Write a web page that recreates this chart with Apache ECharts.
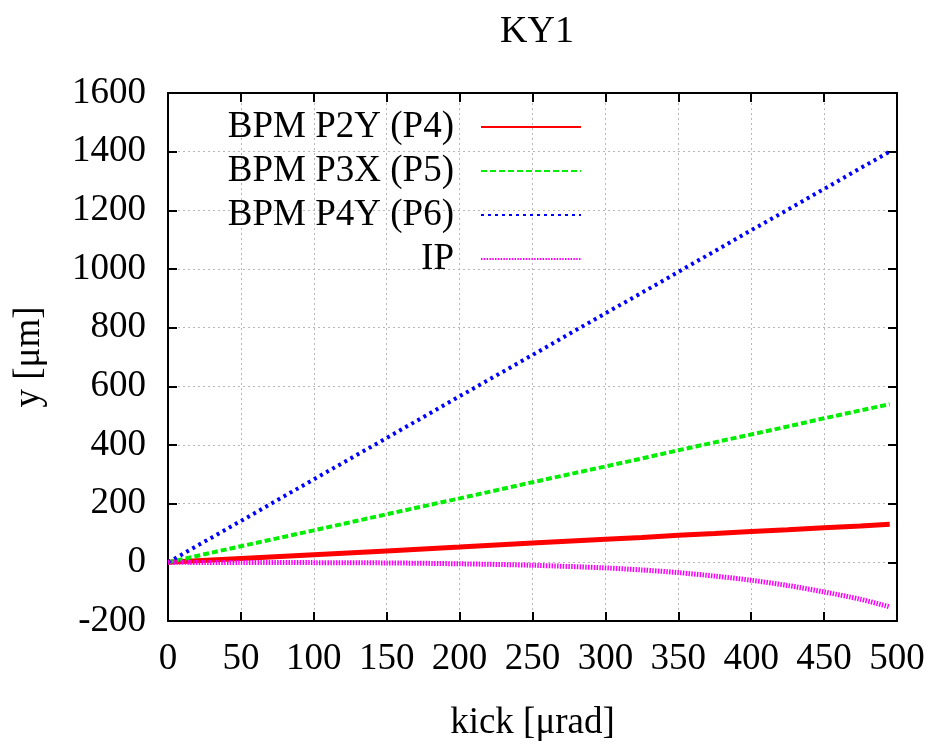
<!DOCTYPE html>
<html>
<head>
<meta charset="utf-8">
<script src="https://cdn.jsdelivr.net/npm/echarts@6/dist/echarts.min.js"></script>
<style>
  html, body { margin: 0; padding: 0; background: #fff; }
  #chart { width: 935px; height: 756px; }
</style>
</head>
<body>
<div id="chart"></div>
<script>
// kick values (µrad) and the readings for each monitor
const kick = [0, 50, 100, 150, 200, 250, 300, 325, 350, 375, 400, 425, 450, 475, 495]
const p2y = [0, 13, 26, 39, 52, 66, 79, 85, 92, 98, 105, 111, 118, 124, 130]
const p3x = [0, 55, 109, 164, 218, 273, 327, 354, 382, 409, 436, 463, 491, 518, 539]
const p4y = [0, 141, 283, 424, 566, 707, 849, 919, 990, 1061, 1132, 1202, 1273, 1344, 1400]
const ip = [0, -0.5, -1, -2, -5, -10, -19, -26, -35, -47, -61, -79, -101, -126, -152]

const names = ['BPM P2Y (P4)', 'BPM P3X (P5)', 'BPM P4Y (P6)', 'IP']

const pairs = (ys) => kick.map((x, i) => [x, ys[i]])

const font = 'Liberation Serif'
const chart = echarts.init(document.getElementById('chart'))

const gridLine = () => ({ show: true, lineStyle: { color: '#b8b8b8', type: [2, 3], width: 1 } })
const tick = () => ({ show: true, inside: true, length: 9, lineStyle: { color: '#000', width: 2 } })
const axisLine = () => ({ show: true, onZero: false, lineStyle: { color: '#000', width: 2 } })

const option = {
  animation: false,
  backgroundColor: '#fff',
  title: {
    text: 'KY1',
    left: 532, top: 8,
    textAlign: 'center',
    textStyle: { fontFamily: font, fontSize: 38, fontWeight: 'normal', color: '#000' }
  },
  legend: {
    data: names,
    orient: 'vertical',
    align: 'right',
    right: 348,
    top: 103,
    itemWidth: 100,
    itemHeight: 12,
    itemGap: 6,
    itemStyle: { opacity: 0 },
    textStyle: { fontFamily: font, fontSize: 37, color: '#000', lineHeight: 38, padding: [0, 22, 0, 0] }
  },
  grid: { left: 168, right: 38, top: 93, bottom: 135 },
  xAxis: [
    {
      type: 'value', min: 0, max: 500, interval: 50,
      name: 'kick [μrad]', nameLocation: 'middle', nameGap: 84,
      nameTextStyle: { fontFamily: font, fontSize: 37, color: '#000' },
      axisLine: axisLine(), axisTick: tick(), splitLine: gridLine(),
      axisLabel: { fontFamily: font, fontSize: 37, color: '#000', margin: 20 }
    },
    {
      type: 'value', min: 0, max: 500, interval: 50, position: 'top',
      axisLine: axisLine(), axisTick: tick(), splitLine: { show: false }, axisLabel: { show: false }
    }
  ],
  yAxis: [
    {
      type: 'value', min: -200, max: 1600, interval: 200,
      name: 'y [μm]', nameLocation: 'middle', nameGap: 120,
      nameTextStyle: { fontFamily: font, fontSize: 37, color: '#000' },
      axisLine: axisLine(), axisTick: tick(), splitLine: gridLine(),
      axisLabel: { fontFamily: font, fontSize: 37, color: '#000', margin: 22, formatter: (v) => String(v) }
    },
    {
      type: 'value', min: -200, max: 1600, interval: 200, position: 'right',
      axisLine: axisLine(), axisTick: tick(), splitLine: { show: false }, axisLabel: { show: false }
    }
  ],
  series: [
    {
      name: names[0], type: 'line', data: pairs(p2y), showSymbol: false, symbol: 'none',
      color: '#ff0000', lineStyle: { color: '#ff0000', width: 5, type: 'solid' }
    },
    {
      name: names[1], type: 'line', data: pairs(p3x), showSymbol: false, symbol: 'none',
      color: '#00ee00', lineStyle: { color: '#00ee00', width: 4, type: [6, 3] }
    },
    {
      name: names[2], type: 'line', data: pairs(p4y), showSymbol: false, symbol: 'none',
      color: '#0000ff', lineStyle: { color: '#0000ff', width: 4, type: [3, 4] }
    },
    {
      name: names[3], type: 'line', data: pairs(ip), showSymbol: false, symbol: 'none', smooth: 0.3,
      color: '#ff00ff', lineStyle: { color: '#ff00ff', width: 5, type: [1.5, 1.3] }
    }
  ]
}
chart.setOption(option)
</script>
</body>
</html>
